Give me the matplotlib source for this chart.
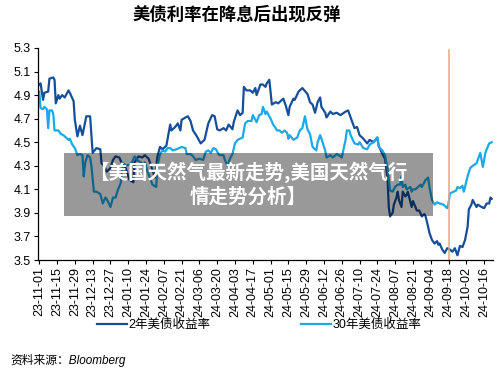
import matplotlib
matplotlib.use("Agg")
import matplotlib.pyplot as plt
import matplotlib.dates as mdates
import pandas as pd
import numpy as np

plt.rcParams['font.family'] = ['Liberation Sans', 'Noto Sans CJK SC', 'DejaVu Sans']

start_date = "2023-11-01"
title = "美债利率在降息后出现反弹"
label_2y = "2年美债收益率"
label_30y = "30年美债收益率"
source = "资料来源：Bloomberg"
overlay_text = "【美国天然气最新走势,美国天然气行\n情走势分析】"
cut_date = "2024-09-18"

# day offsets from start_date and yields
days_2y = [0, 1, 3, 4, 7, 8, 11, 12, 13, 15, 16, 18, 20, 23, 24, 27, 28, 30, 32, 34,
           37, 40, 42, 45, 48, 49, 51, 53, 56, 58, 60, 63, 65, 68, 71, 74, 75, 78, 81, 83,
           86, 88, 91, 93, 95, 97, 100, 103, 104, 107, 109, 111, 112, 115, 117, 119, 121, 124, 127, 130,
           133, 136, 138, 140, 142, 145, 147, 149, 152, 153, 156, 158, 160, 161, 163, 166, 168, 170, 171, 174,
           176, 178, 179, 181, 183, 186, 188, 190, 192, 194, 196, 197, 200, 201, 204, 207, 211, 213, 215, 217,
           219, 221, 222, 225, 226, 229, 231, 234, 237, 241, 243, 244, 246, 248, 250, 252, 255, 258, 260, 263,
           266, 267, 270, 272, 274, 275, 276, 278, 279, 281, 282, 283, 285, 286, 288, 289, 290, 293, 294, 296,
           297, 299, 301, 303, 304, 306, 307, 309, 311, 313, 314, 315, 317, 319, 321, 323, 325, 327, 329, 330,
           331, 333, 335, 337, 338, 340, 341, 344, 345, 348, 350, 352, 354, 355, 356]
yield_2y = [4.99, 5.00, 4.86, 4.92, 4.93, 5.04, 5.05, 5.03, 4.83, 4.90, 4.87, 4.90, 4.88, 4.94, 4.92, 4.85, 4.69, 4.55, 4.64, 4.56,
            4.72, 4.72, 4.41, 4.45, 4.44, 4.32, 4.30, 4.25, 4.28, 4.35, 4.38, 4.37, 4.32, 4.28, 4.18, 4.16, 4.33, 4.38, 4.37, 4.39,
            4.36, 4.30, 4.20, 4.38, 4.46, 4.44, 4.47, 4.65, 4.60, 4.63, 4.66, 4.60, 4.69, 4.71, 4.72, 4.68, 4.60, 4.55, 4.49, 4.52,
            4.66, 4.73, 4.72, 4.61, 4.60, 4.62, 4.60, 4.65, 4.61, 4.67, 4.77, 4.73, 4.75, 4.97, 4.94, 4.94, 4.92, 4.96, 4.90, 4.99,
            4.99, 4.97, 5.00, 5.03, 4.82, 4.84, 4.83, 4.85, 4.87, 4.81, 4.73, 4.80, 4.87, 4.86, 4.93, 4.96, 4.91, 4.84, 4.82, 4.75,
            4.84, 4.88, 4.80, 4.75, 4.71, 4.76, 4.74, 4.75, 4.73, 4.76, 4.77, 4.74, 4.68, 4.62, 4.63, 4.56, 4.53, 4.49, 4.52, 4.50,
            4.54, 4.47, 4.40, 4.36, 4.20, 3.95, 3.87, 3.90, 3.97, 4.03, 4.08, 4.01, 3.95, 4.08, 4.04, 4.05, 4.08, 3.95, 4.00, 3.95,
            3.92, 3.92, 3.87, 3.89, 3.87, 3.78, 3.73, 3.67, 3.64, 3.66, 3.63, 3.64, 3.59, 3.56, 3.60, 3.59, 3.57, 3.60, 3.54, 3.58,
            3.62, 3.61, 3.67, 3.78, 3.93, 3.97, 4.01, 3.95, 3.97, 3.95, 3.94, 3.98, 3.98, 4.03, 4.02]

days_30y = [0, 1, 3, 4, 6, 7, 8, 10, 11, 12, 15, 17, 19, 21, 23, 24, 26, 28, 30, 32,
            34, 35, 36, 38, 40, 41, 43, 45, 48, 50, 52, 53, 56, 58, 60, 62, 64, 66, 68, 71,
            73, 75, 78, 80, 82, 83, 85, 87, 89, 92, 93, 95, 97, 99, 101, 103, 105, 108, 110, 112,
            115, 116, 119, 121, 123, 126, 129, 131, 133, 135, 137, 139, 141, 142, 145, 146, 148, 150, 152, 154,
            156, 160, 162, 164, 167, 168, 171, 173, 175, 176, 178, 179, 182, 184, 186, 187, 189, 191, 193, 195,
            196, 197, 200, 203, 205, 207, 209, 211, 213, 215, 218, 219, 221, 222, 225, 226, 229, 231, 234, 237,
            238, 241, 242, 244, 245, 248, 251, 252, 255, 258, 260, 263, 266, 267, 268, 270, 272, 274, 275, 276,
            278, 280, 282, 284, 285, 286, 288, 289, 292, 293, 294, 296, 298, 300, 301, 304, 306, 307, 309, 311,
            313, 315, 318, 321, 322, 323, 324, 326, 328, 329, 331, 333, 334, 335, 337, 339, 341, 344, 345, 347,
            349, 351, 352, 354, 356]
yield_30y = [4.93, 4.79, 4.78, 4.80, 4.78, 4.62, 4.77, 4.77, 4.74, 4.60, 4.60, 4.57, 4.56, 4.54, 4.52, 4.53, 4.48, 4.45, 4.39, 4.40,
             4.39, 4.21, 4.32, 4.39, 4.37, 4.30, 4.08, 4.08, 4.06, 3.98, 4.03, 4.02, 3.95, 4.03, 4.03, 4.10, 4.15, 4.32, 4.30, 4.31,
             4.33, 4.38, 4.34, 4.33, 4.30, 4.33, 4.26, 4.20, 4.14, 4.12, 4.30, 4.40, 4.43, 4.42, 4.45, 4.45, 4.43, 4.44, 4.45, 4.46,
             4.45, 4.40, 4.40, 4.38, 4.35, 4.36, 4.35, 4.42, 4.43, 4.41, 4.45, 4.44, 4.40, 4.39, 4.39, 4.35, 4.30, 4.36, 4.40, 4.49,
             4.52, 4.54, 4.66, 4.68, 4.68, 4.73, 4.67, 4.73, 4.74, 4.80, 4.74, 4.76, 4.70, 4.65, 4.62, 4.60, 4.60, 4.58, 4.60, 4.58,
             4.53, 4.56, 4.52, 4.54, 4.60, 4.62, 4.72, 4.61, 4.57, 4.46, 4.43, 4.50, 4.56, 4.53, 4.43, 4.37, 4.39, 4.37, 4.40, 4.38,
             4.37, 4.52, 4.60, 4.60, 4.56, 4.49, 4.48, 4.50, 4.45, 4.44, 4.48, 4.50, 4.54, 4.47, 4.45, 4.43, 4.39, 4.28, 4.18, 4.09,
             4.08, 4.12, 4.14, 4.14, 4.21, 4.12, 4.14, 4.10, 4.12, 4.08, 4.10, 4.10, 4.12, 4.14, 4.12, 4.18, 4.20, 4.12, 4.01, 3.97,
             3.99, 3.98, 3.97, 3.94, 3.98, 4.06, 4.07, 4.08, 4.09, 4.12, 4.11, 4.13, 4.08, 4.12, 4.21, 4.28, 4.30, 4.32, 4.35, 4.41,
             4.29, 4.41, 4.44, 4.49, 4.50]

y_ticks = [3.5, 3.7, 3.9, 4.1, 4.3, 4.5, 4.7, 4.9, 5.1, 5.3]

t0 = pd.Timestamp(start_date)
x2 = t0 + pd.to_timedelta(days_2y, unit="D")
x30 = t0 + pd.to_timedelta(days_30y, unit="D")

c2 = "#174E99"
c30 = "#1BA9E8"

fig = plt.figure(figsize=(5.0, 3.69), dpi=100)
ax = fig.add_axes([38 / 500, (369 - 260) / 369, 455 / 500, 212 / 369])

ax.plot(x2, yield_2y, color=c2, lw=1.6, label=label_2y, solid_joinstyle="round")
ax.plot(x30, yield_30y, color=c30, lw=1.6, label=label_30y, solid_joinstyle="round")
ax.axvline(pd.Timestamp(cut_date), ymin=0, ymax=0.99, color="#F4A07A", lw=1.1)

ax.set_ylim(3.5, 5.3)
ax.set_yticks(y_ticks)
ax.set_yticklabels([f"{v:.1f}" for v in y_ticks])
ax.set_xlim(t0 - pd.Timedelta(days=1), t0 + pd.Timedelta(days=357))
tick_dates = pd.date_range(t0, periods=26, freq="14D")
ax.set_xticks(tick_dates)
ax.set_xticklabels([d.strftime("%y-%m-%d") for d in tick_dates], rotation=90)

for s in ["top", "right"]:
    ax.spines[s].set_visible(False)
for s in ["left", "bottom"]:
    ax.spines[s].set_color("black")
    ax.spines[s].set_linewidth(0.9)
ax.tick_params(axis="both", direction="out", length=3, width=0.8, labelsize=9, colors="black", pad=2)

leg = fig.legend(loc="center", bbox_to_anchor=(0.518, (369 - 325) / 369), ncol=2,
                 frameon=False, handlelength=2.4, handletextpad=0.15,
                 columnspacing=7.2, prop={"family": ["Liberation Sans", "Noto Sans CJK SC"], "size": 9})

fig.text(237 / 500, 1 - 15 / 369, title, ha="center", va="center", fontsize=12.5,
         family=["Noto Sans CJK SC"], weight="bold")
fig.text(10 / 500, 1 - 360 / 369, source, ha="left", va="center", fontsize=8.5,
         style="italic", family=["Liberation Sans", "Noto Sans CJK SC"])

# grey overlay banner
box = plt.Rectangle((64 / 500, 1 - 216 / 369), (433 - 64) / 500, (216 - 153) / 369,
                    transform=fig.transFigure, facecolor="black", alpha=0.4,
                    edgecolor="none", zorder=5)
fig.patches.append(box)
fig.text(248 / 500, 1 - 184 / 369, overlay_text, ha="center", va="center",
         fontsize=14, color="white", weight="bold", family=["Noto Sans CJK SC"],
         linespacing=1.35, zorder=6)

fig.savefig("out.png", dpi=100)
